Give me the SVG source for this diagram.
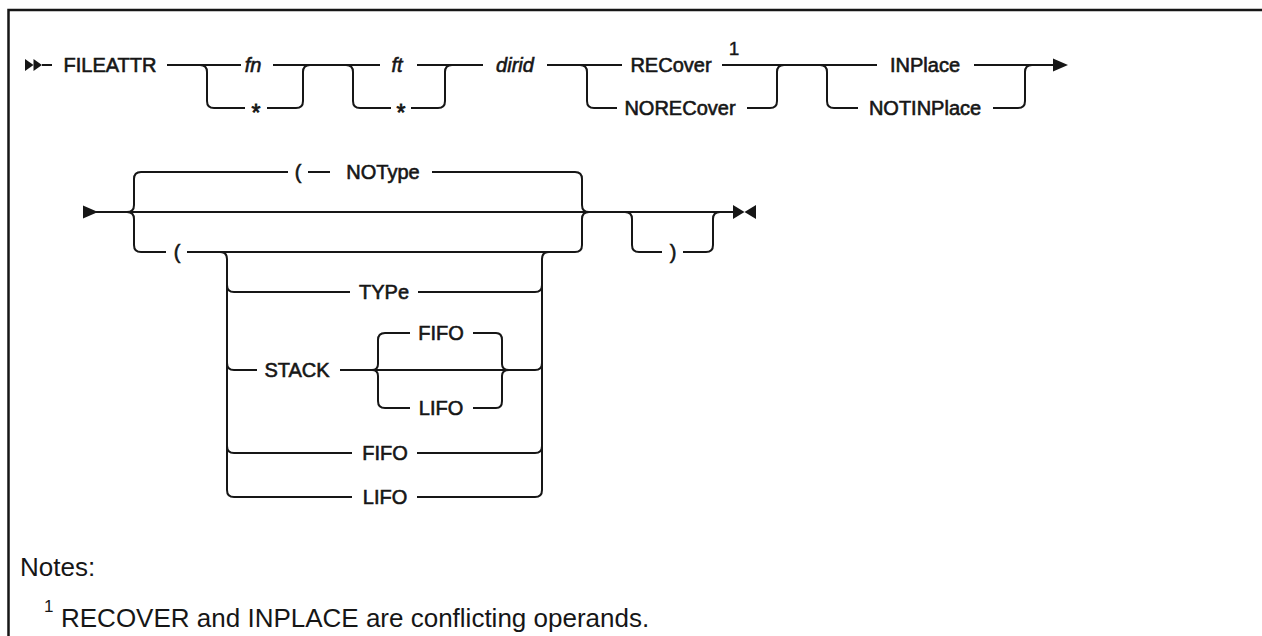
<svg xmlns="http://www.w3.org/2000/svg" width="1262" height="636" viewBox="0 0 1262 636">
<style>
.ln{fill:none;stroke:#161616;stroke-width:2;stroke-linejoin:round}
.mk{fill:#161616;stroke:none}
.t{font-family:"Liberation Sans",Arial,sans-serif;font-size:20px;fill:#161616;stroke:#161616;stroke-width:0.6;text-anchor:middle}
.i{font-style:italic}
.st{font-family:"Liberation Sans",Arial,sans-serif;font-size:23px;fill:#161616;stroke:#161616;stroke-width:0.8;text-anchor:middle}
.sup{font-family:"Liberation Sans",Arial,sans-serif;font-size:19px;fill:#161616;stroke:#161616;stroke-width:0.4;text-anchor:middle}
.n{font-family:"Liberation Sans",Arial,sans-serif;font-size:26px;fill:#161616}
.ns{font-family:"Liberation Sans",Arial,sans-serif;font-size:17px;fill:#161616}
</style>
<rect width="1262" height="636" fill="#fff"/>
<path d="M8.5 636 V10 H1262" fill="none" stroke="#161616" stroke-width="2.5"/>

<g id="connectors">
  <!-- row 1 -->
  <path class="ln" d="M42 65 H52"/>
  <path class="ln" d="M167 65 H241"/>
  <path class="ln" d="M200 65 Q207 65 207 72 V101 Q207 108 214 108 H245"/>
  <path class="ln" d="M267 108 H296 Q303 108 303 101 V72 Q303 65 310 65"/>
  <path class="ln" d="M273 65 H380"/>
  <path class="ln" d="M346 65 Q353 65 353 72 V101 Q353 108 360 108 H391"/>
  <path class="ln" d="M411 108 H438 Q445 108 445 101 V72 Q445 65 452 65"/>
  <path class="ln" d="M417 65 H483"/>
  <path class="ln" d="M547 65 H622"/>
  <path class="ln" d="M580 65 Q587 65 587 72 V101 Q587 108 594 108 H617"/>
  <path class="ln" d="M747 108 H770 Q777 108 777 101 V72 Q777 65 784 65"/>
  <path class="ln" d="M722 65 H877"/>
  <path class="ln" d="M820 65 Q827 65 827 72 V101 Q827 108 834 108 H858"/>
  <path class="ln" d="M993 108 H1018 Q1025 108 1025 101 V72 Q1025 65 1032 65"/>
  <path class="ln" d="M974 65 H1055"/>
  <polygon class="mk" points="1053,58.5 1068,65 1053,71.5"/>
  <!-- row 2 -->
  <polygon class="mk" points="83,205.5 98,212 83,218.5"/>
  <path class="ln" d="M96 212 H733"/>
  <path class="ln" d="M127 212 Q134 212 134 205 V179 Q134 172 141 172 H288"/>
  <path class="ln" d="M127 212 Q134 212 134 219 V245 Q134 252 141 252 H166"/>
  <path class="ln" d="M308 172 H330"/>
  <path class="ln" d="M432 172 H575 Q582 172 582 179 V205 Q582 212 589 212"/>
  <path class="ln" d="M187 252 H575 Q582 252 582 245 V219 Q582 212 589 212"/>
  <path class="ln" d="M625 212 Q632 212 632 219 V245 Q632 252 639 252 H662"/>
  <path class="ln" d="M683 252 H706 Q713 252 713 245 V219 Q713 212 720 212"/>
  <polygon class="mk" points="733,205 744.5,212 733,219"/>
  <polygon class="mk" points="756,205 744.5,212 756,219"/>
  <!-- inner group -->
  <path class="ln" d="M220 252 Q227 252 227 259 V490 Q227 497 234 497 H352"/>
  <path class="ln" d="M227 285 Q227 292 234 292 H350"/>
  <path class="ln" d="M227 363 Q227 370 234 370 H257"/>
  <path class="ln" d="M227 446 Q227 453 234 453 H352"/>
  <path class="ln" d="M418 292 H535 Q542 292 542 285"/>
  <path class="ln" d="M340 370 H535 Q542 370 542 363"/>
  <path class="ln" d="M417 453 H535 Q542 453 542 446"/>
  <path class="ln" d="M417 497 H535 Q542 497 542 490 V259 Q542 252 549 252"/>
  <path class="ln" d="M372 370 Q378 370 378 364 V340 Q378 333 385 333 H410"/>
  <path class="ln" d="M372 370 Q378 370 378 376 V401 Q378 408 385 408 H410"/>
  <path class="ln" d="M473 333 H496 Q502 333 502 340 V364 Q502 370 509 370"/>
  <path class="ln" d="M473 408 H496 Q502 408 502 401 V376 Q502 370 509 370"/>
</g>

<g id="start1"><polygon class="mk" points="25,59 33.5,65 25,71"/><polygon class="mk" points="33.5,59 42,65 33.5,71"/></g>
<g id="n-fileattr"><text class="t" x="110" y="72">FILEATTR</text></g>
<g id="n-fn"><text class="t i" x="253" y="72">fn</text></g>
<g id="n-fn-star"><text class="st" x="256" y="121">*</text></g>
<g id="n-ft"><text class="t i" x="397" y="72">ft</text></g>
<g id="n-ft-star"><text class="st" x="401" y="121">*</text></g>
<g id="n-dirid"><text class="t i" x="515" y="72">dirid</text></g>
<g id="n-recover"><text class="t" x="671" y="72">RECover</text><text class="sup" x="734" y="55">1</text></g>
<g id="n-norecover"><text class="t" x="680" y="115">NORECover</text></g>
<g id="n-inplace"><text class="t" x="925" y="72">INPlace</text></g>
<g id="n-notinplace"><text class="t" x="925" y="115">NOTINPlace</text></g>

<g id="n-paren-notype"><text class="t" x="298" y="179">(</text></g>
<g id="n-notype"><text class="t" x="383" y="179">NOType</text></g>
<g id="n-paren-open"><text class="t" x="177" y="259">(</text></g>
<g id="n-paren-close"><text class="t" x="673" y="259">)</text></g>
<g id="n-type"><text class="t" x="384" y="299">TYPe</text></g>
<g id="n-stack"><text class="t" x="297" y="377">STACK</text></g>
<g id="n-stack-fifo"><text class="t" x="441" y="340">FIFO</text></g>
<g id="n-stack-lifo"><text class="t" x="441" y="415">LIFO</text></g>
<g id="n-fifo"><text class="t" x="385" y="460">FIFO</text></g>
<g id="n-lifo"><text class="t" x="385" y="504">LIFO</text></g>

<g id="notes">
  <text class="n" x="20" y="576">Notes:</text>
  <text class="ns" x="44" y="612">1</text>
  <text class="n" x="61" y="627">RECOVER and INPLACE are conflicting operands.</text>
</g>
</svg>
